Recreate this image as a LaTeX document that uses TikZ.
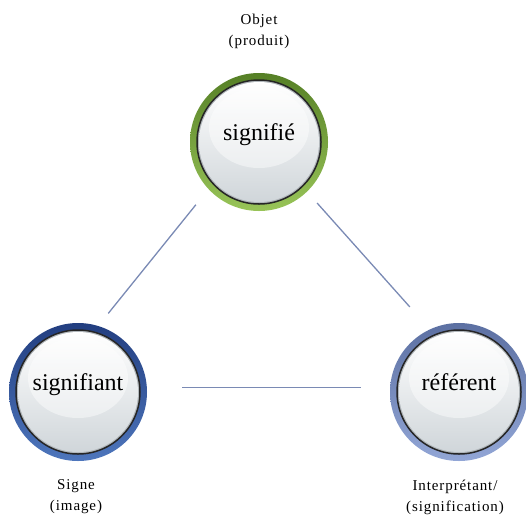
\documentclass[tikz,border=0pt]{standalone}
\usepackage{fontspec}
\setmainfont{Liberation Serif}
\newfontfamily\lblfont[LetterSpace=6]{Liberation Serif}
\definecolor{ringgreenA}{RGB}{86,128,38}
\definecolor{ringgreenB}{RGB}{152,196,88}
\definecolor{ringblueA}{RGB}{34,62,128}
\definecolor{ringblueB}{RGB}{78,118,188}
\definecolor{ringslateA}{RGB}{92,112,162}
\definecolor{ringslateB}{RGB}{146,166,214}
\definecolor{innerbot}{RGB}{208,214,218}
\definecolor{rimgray}{RGB}{178,184,188}
\definecolor{linkcol}{RGB}{122,138,180}
\tikzset{
  bubble/.style={circle, minimum size=138pt, inner sep=0pt, shading angle=30,
    font=\fontsize{24}{26}\selectfont, text depth=20pt,
    path picture={
      \fill[rimgray] (path picture bounding box.center) circle (62pt);
      \shade[top color=white, bottom color=innerbot] (path picture bounding box.center) circle (60pt);
      \fill[white, opacity=.45] ([yshift=14pt]path picture bounding box.center) ellipse (50pt and 40pt);
      \draw[black!85, line width=1.5pt] (path picture bounding box.center) circle (62pt);
    }},
  lbl/.style={align=center, font=\lblfont\fontsize{15}{21}\selectfont},
  link/.style={draw=linkcol, line width=1.3pt},
}
\begin{document}
\begin{tikzpicture}[x=1pt, y=-1pt]
    \useasboundingbox (0,0) rectangle (526,517);
    \node[bubble, top color=ringgreenA, bottom color=ringgreenB] (signifie)   at (259,142) {signifié};
    \node[bubble, top color=ringblueA, bottom color=ringblueB]   (signifiant) at (78,392)  {signifiant};
    \node[bubble, top color=ringslateA, bottom color=ringslateB] (referent)   at (459,392) {référent};

    \node[lbl] (objet)  at (259,31)  {Objet\\(produit)};
    \node[lbl] (signe)  at (76,497)  {Signe\\(image)};
    \node[lbl] (interp) at (455,497) {Interprétant/\\(signification)};

    \draw[link, shorten <=20pt, shorten >=16pt] (signifie.223) to (signifiant.73);
    \draw[link, shorten <=15pt, shorten >=30pt] (signifie.314) to (referent.115);
    \draw[link, shorten <=35pt, shorten >=29pt] (signifiant.4)  to (referent.176);
\end{tikzpicture}
\end{document}
